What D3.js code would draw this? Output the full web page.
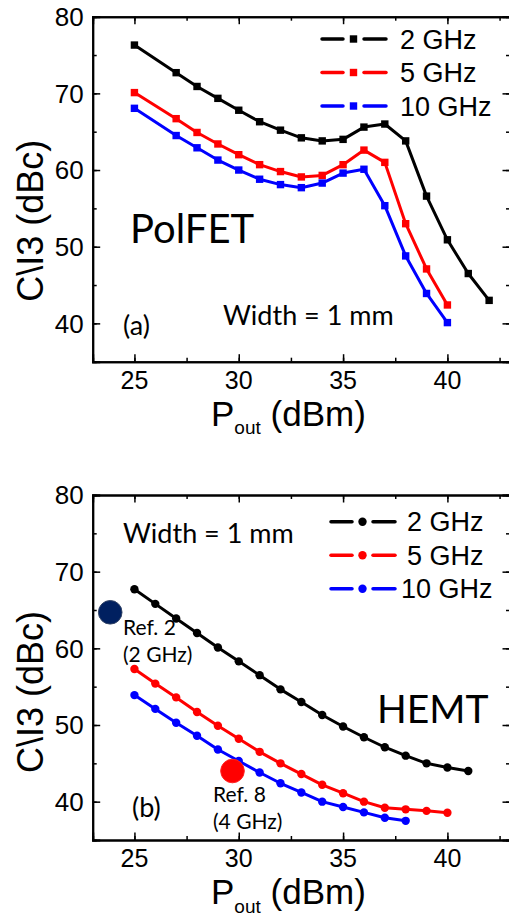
<!DOCTYPE html>
<html>
<head>
<meta charset="utf-8">
<script src="https://cdn.jsdelivr.net/npm/d3@7"></script>
<style>
  body { margin: 0; background: #fff; }
  svg { display: block; }
</style>
</head>
<body>
<svg id="chart" width="509" height="917"></svg>
<script>
// ---- data ----
let polfetX2 = [25, 27, 28, 29, 30, 31, 32, 33, 34, 35, 36, 37, 38, 39, 40, 41, 42]
let polfet2 = [76.3, 72.7, 70.9, 69.35, 67.8, 66.3, 65.2, 64.2, 63.8, 64.0, 65.6, 66.0, 63.8, 56.6, 50.9, 46.5, 43.0]
let polfetX5 = [25, 27, 28, 29, 30, 31, 32, 33, 34, 35, 36, 37, 38, 39, 40]
let polfet5 = [70.1, 66.7, 64.9, 63.4, 62.0, 60.7, 59.8, 59.1, 59.3, 60.7, 62.6, 61.0, 53.0, 47.1, 42.4]
let polfetX10 = [25, 27, 28, 29, 30, 31, 32, 33, 34, 35, 36, 37, 38, 39, 40]
let polfet10 = [68.05, 64.5, 62.9, 61.3, 60.0, 58.8, 58.1, 57.7, 58.3, 59.6, 60.1, 55.35, 48.8, 43.9, 40.1]

let hemtX2 = [25, 26, 27, 28, 29, 30, 31, 32, 33, 34, 35, 36, 37, 38, 39, 40, 41]
let hemt2 = [67.7, 65.8, 63.9, 62.0, 60.1, 58.3, 56.5, 54.65, 53.0, 51.3, 49.8, 48.4, 47.1, 46.0, 45.0, 44.45, 44.0]
let hemtX5 = [25, 26, 27, 28, 29, 30, 31, 32, 33, 34, 35, 36, 37, 38, 39, 40]
let hemt5 = [57.3, 55.4, 53.6, 51.7, 49.9, 48.2, 46.5, 45.0, 43.6, 42.2, 41.1, 40.0, 39.2, 39.0, 38.8, 38.55]
let hemtX10 = [25, 26, 27, 28, 29, 30, 31, 32, 33, 34, 35, 36, 37, 38]
let hemt10 = [53.9, 52.1, 50.3, 48.6, 46.8, 45.3, 43.8, 42.4, 41.2, 40.0, 39.3, 38.6, 37.9, 37.5]

let refPoints = [
  {x: 23.84, y: 64.7, label: 'Ref. 2', sub: '(2 GHz)', fill: '#002060', stroke: '#334466'},
  {x: 29.7, y: 44.0, label: 'Ref. 8', sub: '(4 GHz)', fill: '#ff0000', stroke: '#ff2020'}
]

let seriesNames = ['2 GHz', '5 GHz', '10 GHz']
let seriesColors = ['#000000', '#ff0000', '#0000ff']
let xTicks = [25, 30, 35, 40]
let yTicks = [40, 50, 60, 70, 80]

let svg = d3.select('#chart')
let axisFont = 'Liberation Sans, Arial, sans-serif'
let noteFont = 'Lato, Carlito, sans-serif'

function drawPanel(top, series, marker, opts) {
  let x = d3.scaleLinear().domain([23, 43]).range([92.7, 510])
  let y = d3.scaleLinear().domain([35, 80]).range([top + 345, top])
  let g = svg.append('g')

  // ticks on all four sides, pointing inward
  let minorX = d3.range(25, 43, 2.5)
  let minorY = d3.range(40, 80, 5)
  g.append('g').attr('transform', 'translate(0,' + y(35) + ')')
    .call(d3.axisBottom(x).tickValues(minorX).tickSize(-4).tickFormat(''))
  g.append('g').attr('transform', 'translate(0,' + y(35) + ')')
    .call(d3.axisBottom(x).tickValues(xTicks).tickSize(-7.5).tickFormat(''))
  g.append('g').attr('transform', 'translate(0,' + y(80) + ')')
    .call(d3.axisTop(x).tickValues(minorX).tickSize(-4).tickFormat(''))
  g.append('g').attr('transform', 'translate(0,' + y(80) + ')')
    .call(d3.axisTop(x).tickValues(xTicks).tickSize(-7.5).tickFormat(''))
  g.append('g').attr('transform', 'translate(' + x(23) + ',0)')
    .call(d3.axisLeft(y).tickValues(minorY).tickSize(-4).tickFormat(''))
  g.append('g').attr('transform', 'translate(' + x(23) + ',0)')
    .call(d3.axisLeft(y).tickValues(yTicks).tickSize(-7.5).tickFormat(''))
  g.append('g').attr('transform', 'translate(' + x(43) + ',0)')
    .call(d3.axisRight(y).tickValues(minorY).tickSize(-4).tickFormat(''))
  g.append('g').attr('transform', 'translate(' + x(43) + ',0)')
    .call(d3.axisRight(y).tickValues(yTicks).tickSize(-7.5).tickFormat(''))
  g.selectAll('.domain').attr('stroke', '#000').attr('stroke-width', 2)
  g.selectAll('.tick line').attr('stroke', '#000').attr('stroke-width', 1.5)

  // tick labels
  g.selectAll('.xlab').data(xTicks).enter().append('text')
    .attr('x', d => x(d)).attr('y', y(35) + 27)
    .attr('text-anchor', 'middle')
    .style('font-family', axisFont).style('font-size', '25px')
    .text(d => d)
  g.selectAll('.ylab').data(yTicks).enter().append('text')
    .attr('x', x(23) - 9).attr('y', d => y(d) + 9.3)
    .attr('text-anchor', 'end')
    .style('font-family', axisFont).style('font-size', '26px')
    .text(d => d)

  // axis titles
  let xt = g.append('text').attr('x', 211).attr('y', y(35) + 64.2)
    .style('font-family', axisFont).style('font-size', '35px')
  xt.append('tspan').text('P')
  xt.append('tspan').attr('dy', 8.4).style('font-size', '19px').text('out')
  xt.append('tspan').attr('dy', -8.4).text(' (dBm)')

  g.append('text')
    .attr('transform', 'translate(43,' + (top + opts.titleY) + ') rotate(-90)')
    .attr('text-anchor', 'middle')
    .style('font-family', axisFont).style('font-size', '36px')
    .text('C\\I3 (dBc)')

  // series
  let line = d3.line().x(d => x(d[0])).y(d => y(d[1]))
  series.forEach((s, i) => {
    let pts = s.xs.map((v, j) => [v, s.ys[j]])
    g.append('path').datum(pts)
      .attr('d', line)
      .attr('fill', 'none')
      .attr('stroke', seriesColors[i])
      .attr('stroke-width', 3)
      .attr('stroke-linejoin', 'round')
    drawMarkers(g, pts.map(p => [x(p[0]), y(p[1])]), marker, seriesColors[i])
  })

  // legend
  seriesNames.forEach((name, i) => {
    let ly = opts.legendY + i * 33.5
    let lx = opts.legendX
    g.append('line').attr('x1', lx).attr('x2', lx + 21).attr('y1', ly).attr('y2', ly)
      .attr('stroke', seriesColors[i]).attr('stroke-width', 3.5).attr('stroke-linecap', 'round')
    g.append('line').attr('x1', lx + 42).attr('x2', lx + 64).attr('y1', ly).attr('y2', ly)
      .attr('stroke', seriesColors[i]).attr('stroke-width', 3.5).attr('stroke-linecap', 'round')
    drawMarkers(g, [[lx + 31.5, ly]], marker, seriesColors[i])
    g.append('text').attr('x', opts.legendTextX[i]).attr('y', ly + 9.7)
      .style('font-family', axisFont).style('font-size', '27px')
      .text(name)
  })

  return {x, y, g}
}

function drawMarkers(g, pts, marker, color) {
  if (marker === 'square') {
    g.selectAll(null).data(pts).enter().append('rect')
      .attr('x', d => d[0] - 3.7).attr('y', d => d[1] - 3.7)
      .attr('width', 7.4).attr('height', 7.4)
      .attr('fill', color)
  } else {
    g.selectAll(null).data(pts).enter().append('circle')
      .attr('cx', d => d[0]).attr('cy', d => d[1]).attr('r', 4.2)
      .attr('fill', color)
  }
}

function note(g, x, y, txt, size) {
  g.append('text').attr('x', x).attr('y', y)
    .style('font-family', noteFont).style('font-size', size + 'px')
    .text(txt)
}

// ---- (a) PolFET ----
let a = drawPanel(16.7, [
  {xs: polfetX2, ys: polfet2},
  {xs: polfetX5, ys: polfet5},
  {xs: polfetX10, ys: polfet10}
], 'square', {legendX: 322, legendY: 39, legendTextX: [400, 400, 400], titleY: 204})
note(a.g, 130, 243, 'PolFET', 40)
note(a.g, 123, 335, '(a)', 27)
note(a.g, 223, 325, 'Width = 1 mm', 27)

// ---- (b) HEMT ----
let b = drawPanel(495, [
  {xs: hemtX2, ys: hemt2},
  {xs: hemtX5, ys: hemt5},
  {xs: hemtX10, ys: hemt10}
], 'circle', {legendX: 331, legendY: 521.7, legendTextX: [407, 407, 401], titleY: 197})
note(b.g, 123, 543, 'Width = 1 mm', 27)
note(b.g, 377, 723, 'HEMT', 39)
note(b.g, 132, 817, '(b)', 27)

refPoints.forEach(r => {
  b.g.append('circle')
    .attr('cx', b.x(r.x)).attr('cy', b.y(r.y)).attr('r', 11.8)
    .attr('fill', r.fill).attr('stroke', r.stroke).attr('stroke-width', 1)
})
note(b.g, 123, 635, refPoints[0].label, 21)
note(b.g, 123, 662, refPoints[0].sub, 21)
note(b.g, 213, 802, refPoints[1].label, 21)
note(b.g, 213, 829, refPoints[1].sub, 21)
</script>
</body>
</html>
